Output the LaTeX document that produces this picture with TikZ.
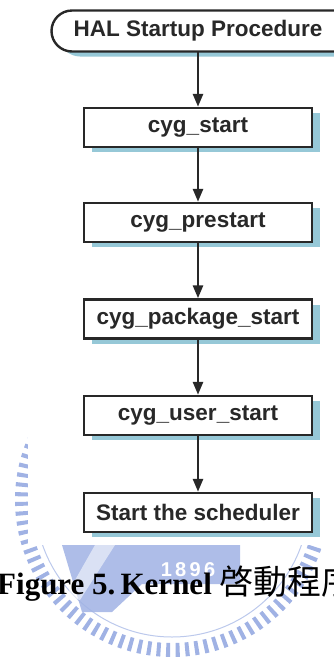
\documentclass[tikz,border=0pt]{standalone}
\usepackage{fontspec}
\setmainfont{Liberation Serif}
\newfontfamily\boxfont{Liberation Sans}
\newfontfamily\cjkfont{Noto Sans CJK TC}
\usetikzlibrary{arrows.meta}

\definecolor{inkgray}{RGB}{40,40,40}
\definecolor{shadowblue}{RGB}{150,200,215}
\definecolor{sealblue}{RGB}{160,178,228}

\tikzset{
  boxtext/.style={
    font=\boxfont\bfseries\fontsize{22.5pt}{24pt}\selectfont, text=inkgray
  },
  stepbox/.style={
    boxtext, draw=inkgray, line width=2.4pt, fill=white,
    minimum width=228pt, minimum height=39pt, inner sep=0pt,
    preaction={fill=shadowblue, transform canvas={xshift=8pt,yshift=-5pt}}
  },
  framedpath/.style={
    draw=inkgray, line width=2.4pt, fill=white,
    preaction={fill=shadowblue, transform canvas={xshift=8pt,yshift=-5pt}}
  },
  flow/.style={
    draw=inkgray, line width=2.6pt,
    -{Triangle[width=10pt,length=13pt]}
  }
}

\begin{document}
\begin{tikzpicture}[x=1pt,y=-1pt]
  \useasboundingbox (0,0) rectangle (334,657);

  % university seal behind the figure
  \begin{scope}
    \clip (0,0) rectangle (334,657);
    \draw[sealblue, line width=14pt, dash pattern=on 4pt off 5.5pt] (172,500) circle (150);
    \draw[sealblue!70, line width=1pt] (172,500) circle (137);
    \fill[sealblue, opacity=0.85]
      (62,545) -- (240,545) -- (240,584) -- (142,584) -- (112,612) -- (82,612) -- cycle;
    \fill[white, opacity=0.55] (95,545) -- (115,545) -- (80,600) -- (66,596) -- cycle;
    \node[text=white, font=\boxfont\bfseries\fontsize{20pt}{20pt}\selectfont] (year) at (188,570) {1\,8\,9\,6};
  \end{scope}

  % white sheet carrying the flow chart
  \fill[white] (28,0) rectangle (334,545);

  % rounded start terminal, running past the right edge
  \path[framedpath] (72,10.5) -- (360,10.5) -- (360,51.5) -- (72,51.5)
    arc[start angle=90, end angle=270, radius=20.5] -- cycle;
  \node[boxtext, minimum height=41pt, inner sep=0pt] (hal) at (198,31) {HAL Startup Procedure};

  % steps
  \node[stepbox] (cs)  at (198,127.5) {cyg\_start};
  \node[stepbox] (cp)  at (198,222.5) {cyg\_prestart};
  \node[stepbox] (cpk) at (198,319)   {cyg\_package\_start};
  \node[stepbox] (cu)  at (198,415.5) {cyg\_user\_start};
  \node[stepbox] (sch) at (198,512.5) {Start the scheduler};

  % connectors
  \draw[flow] (hal) -- (cs);
  \draw[flow] (cs) -- (cp);
  \draw[flow] (cp) -- (cpk);
  \draw[flow] (cpk) -- (cu);
  \draw[flow] (cu) -- (sch);

  % caption
  \node[anchor=base west, inner sep=0pt, font=\bfseries\fontsize{31pt}{32pt}\selectfont] (cap) at (-3,594)
    {Figure 5.\,Kernel {\cjkfont\mdseries\fontsize{34pt}{34pt}\selectfont 啓動程序}};
\end{tikzpicture}
\end{document}
